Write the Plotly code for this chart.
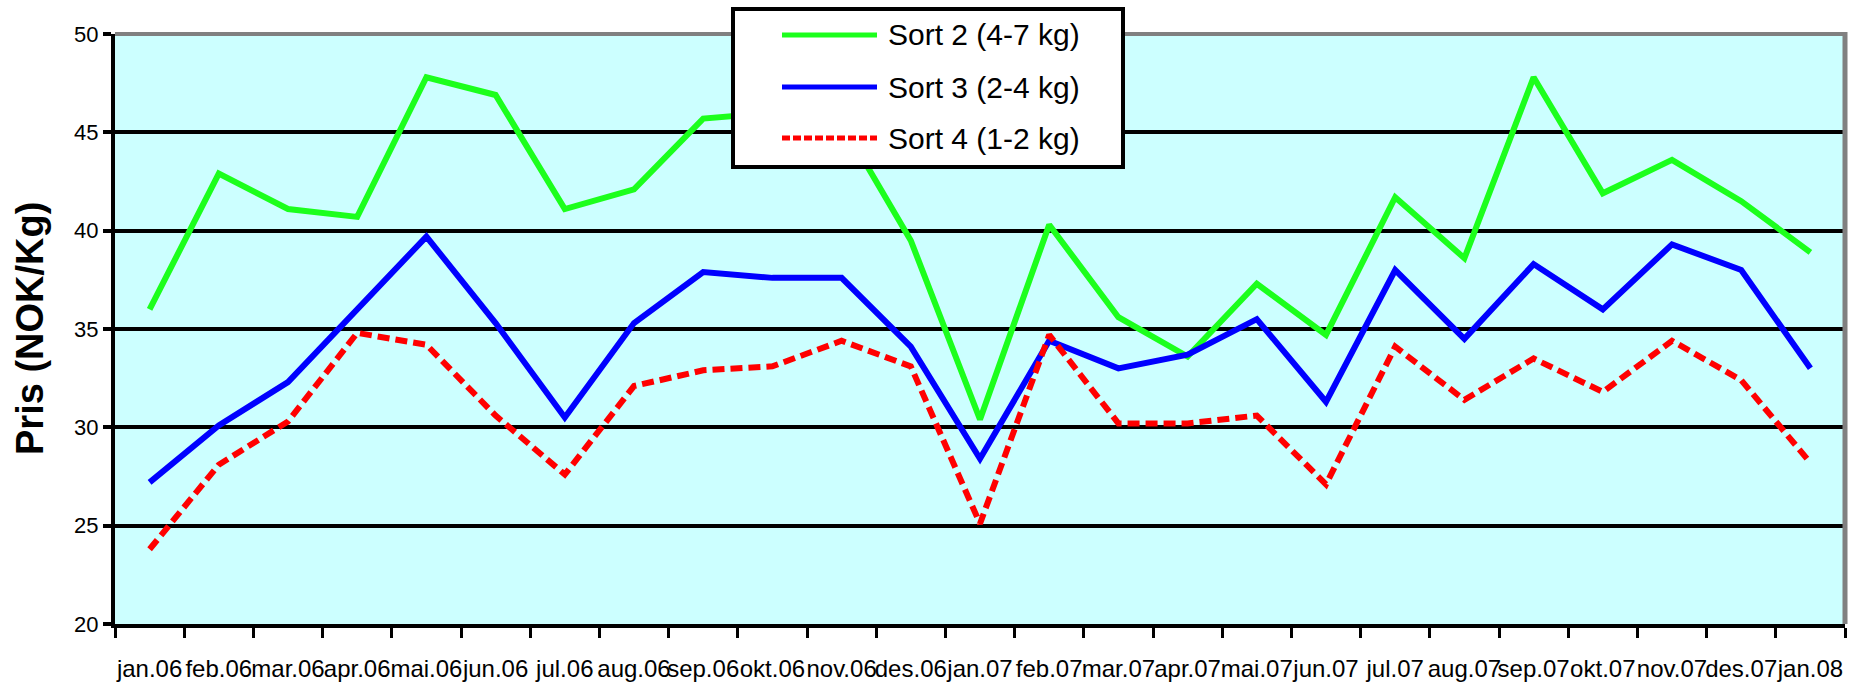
import plotly.graph_objects as go

months = ["jan.06", "feb.06", "mar.06", "apr.06", "mai.06", "jun.06", "jul.06", "aug.06",
          "sep.06", "okt.06", "nov.06", "des.06", "jan.07", "feb.07", "mar.07", "apr.07",
          "mai.07", "jun.07", "jul.07", "aug.07", "sep.07", "okt.07", "nov.07", "des.07", "jan.08"]

sort2 = [36.0, 42.9, 41.1, 40.7, 47.8, 46.9, 41.1, 42.1, 45.7, 46.0, 45.5, 39.5, 30.4,
         40.3, 35.6, 33.6, 37.3, 34.7, 41.7, 38.6, 47.8, 41.9, 43.6, 41.5, 38.9]
sort3 = [27.2, 30.1, 32.3, 36.0, 39.7, 35.3, 30.5, 35.3, 37.9, 37.6, 37.6, 34.1, 28.4,
         34.4, 33.0, 33.7, 35.5, 31.3, 38.0, 34.5, 38.3, 36.0, 39.3, 38.0, 33.0]
sort4 = [23.8, 28.1, 30.3, 34.8, 34.2, 30.6, 27.6, 32.1, 32.9, 33.1, 34.4, 33.1, 25.1,
         34.7, 30.2, 30.2, 30.6, 27.1, 34.1, 31.4, 33.5, 31.8, 34.4, 32.4, 28.2]

series_names = ["Sort 2 (4-7 kg)", "Sort 3 (2-4 kg)", "Sort 4 (1-2 kg)"]
y_ticks = [20, 25, 30, 35, 40, 45, 50]
y_title = "Pris (NOK/Kg)"

W, H = 1854, 684
L, R, T, B = 115, 9, 34, 60
PW, PH = W - L - R, H - T - B

FONT = "Liberation Sans, Arial, sans-serif"
colors = ["#1CFF1C", "#0000FF", "#FF0000"]
dashes = ["solid", "solid", "12px,6px"]

fig = go.Figure()
for name, vals, c, d in zip(series_names, [sort2, sort3, sort4], colors, dashes):
    fig.add_trace(go.Scatter(x=months, y=vals, mode="lines", name=name,
                             line=dict(color=c, width=6, dash=d), showlegend=False))


def px_x(p):
    return (p - L) / PW


def px_y(p):
    return (H - B - p) / PH


shapes = []
# gray top and right frame
shapes.append(dict(type="line", xref="paper", yref="paper", x0=0, x1=px_x(W - R + 2), y0=1, y1=1,
                   line=dict(color="#808080", width=4), layer="above"))
shapes.append(dict(type="line", xref="paper", yref="paper", x0=1, x1=1, y0=0, y1=px_y(T - 2),
                   line=dict(color="#808080", width=5), layer="above"))

# custom legend box
lx0, lx1, ly0, ly1 = 733, 1123, 9, 167
shapes.append(dict(type="rect", xref="paper", yref="paper",
                   x0=px_x(lx0), x1=px_x(lx1), y0=px_y(ly1), y1=px_y(ly0),
                   fillcolor="white", line=dict(color="black", width=4), layer="above"))
rows = [35, 87, 138]
annotations = []
for yy, name, c, d in zip(rows, series_names, colors, dashes):
    shapes.append(dict(type="line", xref="paper", yref="paper",
                       x0=px_x(782), x1=px_x(877), y0=px_y(yy), y1=px_y(yy),
                       line=dict(color=c, width=5, dash="8px,3px" if d != "solid" else "solid"),
                       layer="above"))
    annotations.append(dict(xref="paper", yref="paper", x=px_x(886), y=px_y(yy),
                            xanchor="left", yanchor="middle", text=name, showarrow=False,
                            font=dict(family=FONT, size=30, color="black")))

annotations.append(dict(xref="paper", yref="paper", x=px_x(30), y=0.5, xanchor="center",
                        yanchor="middle", text="<b>" + y_title + "</b>", textangle=-90,
                        showarrow=False, font=dict(family=FONT, size=38, color="black")))

fig.update_layout(
    width=W, height=H,
    margin=dict(l=L, r=R, t=T, b=B),
    paper_bgcolor="white",
    plot_bgcolor="#CCFFFF",
    shapes=shapes,
    annotations=annotations,
    showlegend=False,
)
fig.update_xaxes(
    type="category", range=[-0.5, len(months) - 0.5],
    showline=True, linecolor="black", linewidth=4,
    showgrid=False, zeroline=False,
    ticks="outside", tickson="boundaries", ticklen=10, tickwidth=3, tickcolor="black",
    tickfont=dict(family=FONT, size=24, color="black"), tickangle=0,
    ticklabelstandoff=20, automargin=False,
)
fig.update_yaxes(
    range=[20, 50], tickvals=y_ticks,
    showline=True, linecolor="black", linewidth=4,
    showgrid=True, gridcolor="black", gridwidth=4, zeroline=False,
    ticks="outside", ticklen=8, tickwidth=4, tickcolor="black",
    tickfont=dict(family=FONT, size=22, color="black"),
    ticklabelstandoff=0, automargin=False,
)

fig.write_html("out.html", config={"displayModeBar": False},
               post_script="document.body.style.margin='0';document.body.style.overflow='hidden';")
